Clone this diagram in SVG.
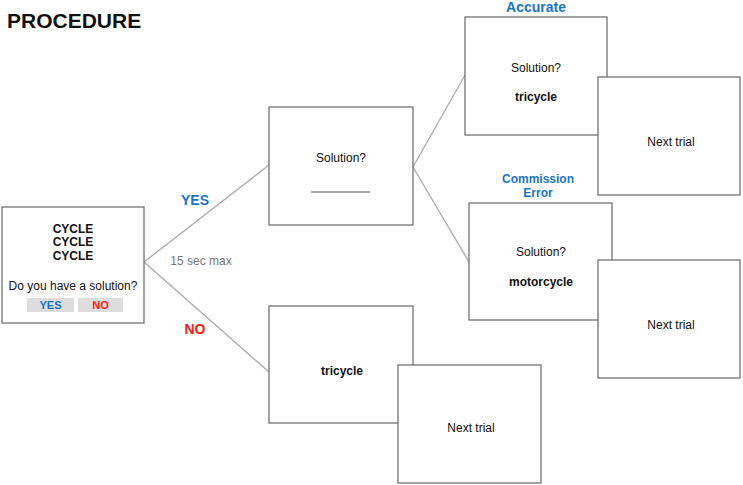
<svg xmlns="http://www.w3.org/2000/svg" width="743" height="485" viewBox="0 0 743 485">
<style>
text{font-family:"Liberation Sans",Arial,sans-serif;text-anchor:middle}
.box{fill:#fff;stroke:#666;stroke-width:1.2}
.t{font-size:12px;fill:#111}
.b{font-size:12px;font-weight:bold;fill:#111}
.blue{fill:#1a74c9;font-weight:bold}
.red{fill:#ff1a1a;font-weight:bold}
.con{stroke:#aaa;stroke-width:1.3;fill:none}
</style>
<rect width="743" height="485" fill="#fff"/>
<text x="7" y="28" style="text-anchor:start;font-size:21px;font-weight:bold" fill="#111">PROCEDURE</text>
<g id="connectors">
<line class="con" x1="144" y1="262" x2="269" y2="165"/>
<line class="con" x1="144" y1="262" x2="269" y2="372"/>
<line class="con" x1="413" y1="167" x2="465" y2="75"/>
<line class="con" x1="413" y1="167" x2="469" y2="262"/>
</g>
<g id="start">
<rect class="box" x="2" y="207" width="142" height="116"/>
<text class="b" x="73" y="233">CYCLE</text>
<text class="b" x="73" y="246">CYCLE</text>
<text class="b" x="73" y="260">CYCLE</text>
<text class="t" x="73" y="290">Do you have a solution?</text>
<rect x="27" y="298" width="47" height="14" fill="#ddd"/>
<rect x="78" y="298" width="45" height="14" fill="#ddd"/>
<text class="blue" x="50.5" y="309" style="font-size:11px">YES</text>
<text class="red" x="100.5" y="309" style="font-size:11px">NO</text>
</g>
<g id="labels">
<text class="blue" x="195" y="205" style="font-size:14px">YES</text>
<text class="red" x="195" y="334" style="font-size:14px">NO</text>
<text x="201" y="265" style="font-size:12px" fill="#777">15 sec max</text>
<text class="blue" x="536" y="12" style="font-size:14px">Accurate</text>
<text class="blue" x="538" y="183" style="font-size:12px">Commission</text>
<text class="blue" x="538" y="197" style="font-size:12px">Error</text>
</g>
<g id="solution">
<rect class="box" x="269" y="107" width="144" height="118"/>
<text class="t" x="341" y="162">Solution?</text>
<line x1="311" y1="192" x2="370" y2="192" stroke="#555" stroke-width="1"/>
</g>
<g id="accurate">
<rect class="box" x="465" y="17" width="142" height="118"/>
<text class="t" x="536" y="72">Solution?</text>
<text class="b" x="536" y="101">tricycle</text>
</g>
<g id="next1">
<rect class="box" x="598" y="77" width="142" height="118"/>
<text class="t" x="671" y="146">Next trial</text>
</g>
<g id="commission">
<rect class="box" x="469" y="203" width="143" height="117"/>
<text class="t" x="541" y="256">Solution?</text>
<text class="b" x="541" y="286">motorcycle</text>
</g>
<g id="next2">
<rect class="box" x="598" y="260" width="142" height="118"/>
<text class="t" x="671" y="329">Next trial</text>
</g>
<g id="no">
<rect class="box" x="269" y="306" width="144" height="117"/>
<text class="b" x="342" y="375">tricycle</text>
</g>
<g id="next3">
<rect class="box" x="398" y="365" width="143" height="118"/>
<text class="t" x="471" y="432">Next trial</text>
</g>
</svg>
